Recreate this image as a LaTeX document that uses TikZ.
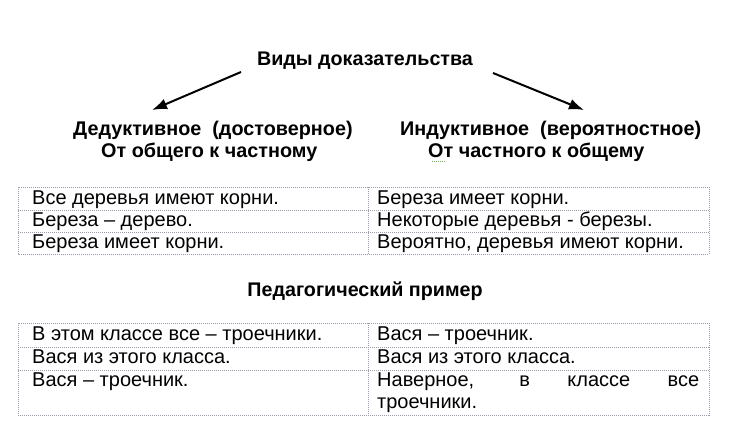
\documentclass[tikz,border=0pt]{standalone}
\usepackage{fontspec}
\setmainfont{Liberation Sans}
\usetikzlibrary{arrows.meta}
\definecolor{gridgray}{HTML}{9A9AAA}
\definecolor{spellgreen}{HTML}{6FAF50}
\tikzset{
  title/.style={font=\bfseries\fontsize{19.7}{22}\selectfont, inner sep=0pt, anchor=base},
  head/.style={font=\bfseries\fontsize{19.8}{22}\selectfont, inner sep=0pt, anchor=base west},
  cell/.style={font=\fontsize{20}{23}\selectfont, inner sep=0pt, anchor=base west},
  grid/.style={draw=gridgray, line width=0.7pt, dash pattern=on 1pt off 1pt},
  bigarrow/.style={line width=2pt, -{Latex[length=15pt,width=11pt]}}
}
\begin{document}
\begin{tikzpicture}[x=1pt,y=-1pt]
\useasboundingbox (0,0) rectangle (734,443);
\fill[white] (0,0) rectangle (734,443);

% title
\node[title] (ttl) at (365,66) {Виды доказательства};

% headings
\node[head] (dl1) at (73,136) {Дедуктивное\ \ (достоверное)};
\node[head] (dl2) at (101,158) {От общего к частному};
\node[head] (il1) at (400,136) {Индуктивное\ \ (вероятностное)};
\node[head] (il2) at (428,158) {От частного к общему};
\draw[spellgreen, line width=0.8pt, dash pattern=on 1pt off 1pt] (432,161) -- (446,161);

% arrows
\coordinate (aLs) at (241,72);
\coordinate (aLe) at (152,110);
\coordinate (aRs) at (493,73);
\coordinate (aRe) at (584,110);
\draw[bigarrow] (aLs) -- (aLe);
\draw[bigarrow] (aRs) -- (aRe);

% table 1
\draw[grid] (18,187) rectangle (709,254);
\draw[grid] (18,210) -- (709,210);
\draw[grid] (18,232) -- (709,232);
\draw[grid] (368,187) -- (368,254);
\node[cell] (t1a) at (32,205) {Все деревья имеют корни.};
\node[cell] (t1b) at (32,227) {Береза – дерево.};
\node[cell] (t1c) at (32,249) {Береза имеет корни.};
\node[cell] (t1d) at (377,205) {Береза имеет корни.};
\node[cell] (t1e) at (377,227) {Некоторые деревья - березы.};
\node[cell] (t1f) at (377,249) {Вероятно, деревья имеют корни.};

% subtitle
\node[title] (sub) at (365,297) {Педагогический пример};

% table 2
\draw[grid] (18,323) rectangle (709,415);
\draw[grid] (18,347) -- (709,347);
\draw[grid] (18,370) -- (709,370);
\draw[grid] (368,323) -- (368,415);
\node[cell] (t2a) at (32,341) {В этом классе все – троечники.};
\node[cell] (t2b) at (32,364) {Вася из этого класса.};
\node[cell] (t2c) at (32,387) {Вася – троечник.};
\node[cell] (t2d) at (377,341) {Вася – троечник.};
\node[cell] (t2e) at (377,364) {Вася из этого класса.};
\node[cell] (t2f) at (377,387) {\makebox[322pt][s]{Наверное, в классе все}};
\node[cell] (t2g) at (377,409) {троечники.};
\end{tikzpicture}
\end{document}
